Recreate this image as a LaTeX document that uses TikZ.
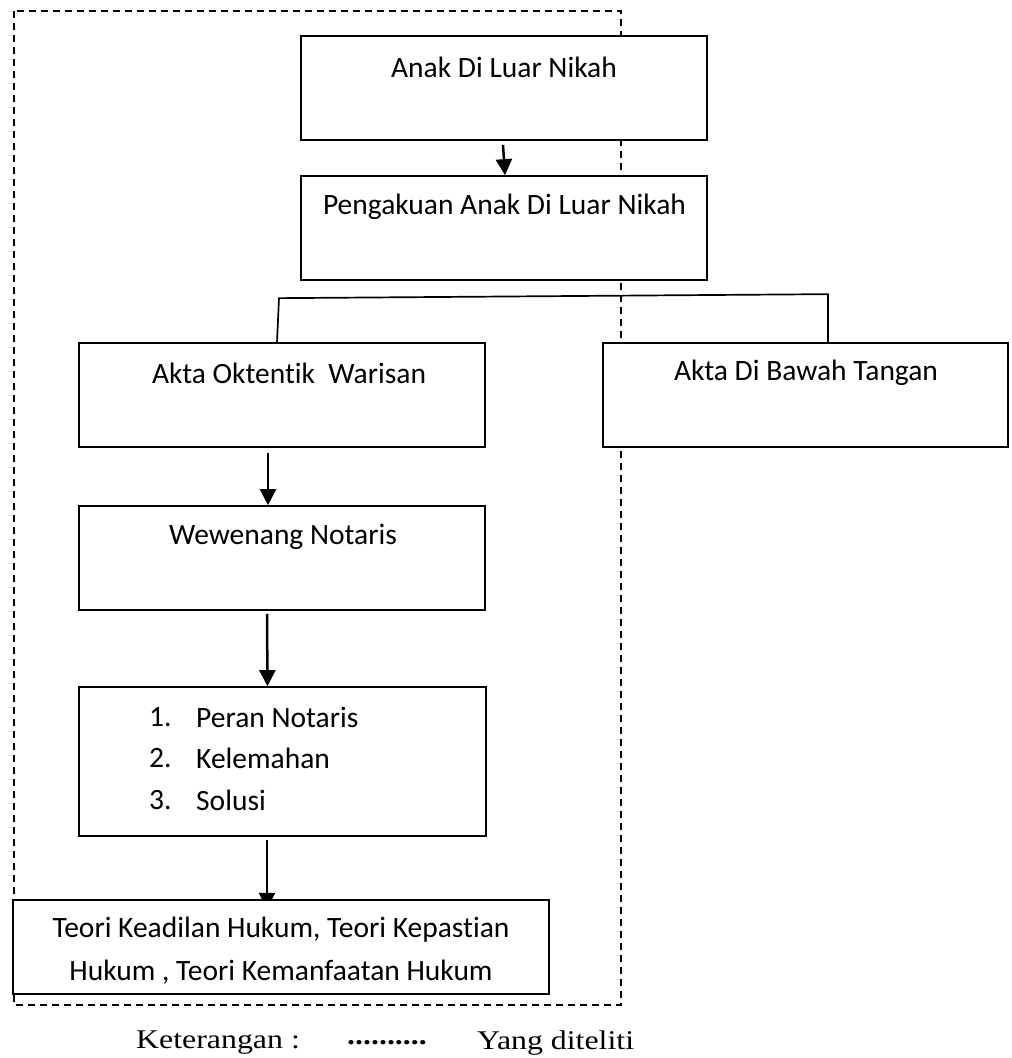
\documentclass[tikz,border=0pt]{standalone}
\usepackage{fontspec}
\setmainfont{Carlito}[Ligatures={NoCommon}]
\newfontfamily\legendfont{Liberation Serif}[FakeStretch=1.18]
\usetikzlibrary{arrows.meta}
\begin{document}
\begin{tikzpicture}[x=1pt,y=-1pt,
  box/.style={draw,line width=1.7pt,fill=white,inner sep=0pt},
  arr/.style={line width=2.5pt,-{Triangle[length=16pt,width=16pt]}},
  conn/.style={line width=1.7pt},
  txt/.style={inner sep=0pt,font=\fontsize{29.5}{35}\selectfont},
  legend/.style={inner sep=0pt,anchor=west,font=\legendfont\fontsize{27}{32}\selectfont},
  frame/.style={line width=1.4pt,dash pattern=on 7pt off 5pt}]
\useasboundingbox (0,0) rectangle (1012,1058);
\draw[frame] (14,11) rectangle (621,1005);
% boxes
\node[box,minimum width=406pt,minimum height=104pt] (b1) at (504,88) {};
\node[box,minimum width=406pt,minimum height=104pt] (b2) at (504,228) {};
\node[box,minimum width=406pt,minimum height=104pt] (b3) at (282,395) {};
\node[box,minimum width=405pt,minimum height=104pt] (b4) at (805.5,395) {};
\node[box,minimum width=406pt,minimum height=104pt] (b5) at (282,558) {};
\node[box,minimum width=407pt,minimum height=149pt] (b6) at (282.5,761.5) {};
% arrows
\draw[arr] ([xshift=-1pt,yshift=-4pt]b1.south) -- ([xshift=1pt]b2.north);
\draw[arr] ([xshift=-14pt,yshift=-5pt]b3.south) -- ([xshift=-14pt]b5.north);
\draw[arr] ([xshift=-15pt,yshift=-3pt]b5.south) -- ([xshift=-15pt]b6.north);
\draw[arr] ([xshift=-15.5pt,yshift=-3pt]b6.south) -- ([xshift=-15.5pt,yshift=-72pt]b6.south);
\node[box,minimum width=536pt,minimum height=94pt] (b7) at (281,947) {};
% connector
\draw[conn] ([xshift=-5pt]b3.north) -- ([xshift=-3pt,yshift=44pt]b3.north)
  -- ([xshift=22.5pt,yshift=48pt]b4.north) -- ([xshift=22.5pt]b4.north);
% texts
\node[txt] (t1) at (504,67) {Anak Di Luar Nikah};
\node[txt] (t2) at (504.5,207) {Pengakuan Anak Di Luar Nikah};
\node[txt] (t3) at (289,373) {Akta Oktentik\ \ Warisan};
\node[txt] (t4) at (806,373) {Akta Di Bawah Tangan};
\node[txt] (t5) at (283,537) {Wewenang Notaris};
\node[txt,anchor=west] (n1) at (149,717) {1.};
\node[txt,anchor=west] (i1) at (196,717) {Peran Notaris};
\node[txt,anchor=west] (n2) at (149,758) {2.};
\node[txt,anchor=west] (i2) at (196,758) {Kelemahan};
\node[txt,anchor=west] (n3) at (149,800) {3.};
\node[txt,anchor=west] (i3) at (196,800) {Solusi};
\node[txt] (t7a) at (281,930) {Teori Keadilan Hukum, Teori Kepastian};
\node[txt] (t7b) at (281,972) {Hukum , Teori Kemanfaatan Hukum};
% legend
\node[legend] (k) at (136,1043) {Keterangan :};
\node[legend,font=\legendfont\bfseries\fontsize{27}{32}\selectfont] (d) at (347,1043) {..........};
\node[legend] (y) at (477,1043) {Yang diteliti};
\end{tikzpicture}
\end{document}
